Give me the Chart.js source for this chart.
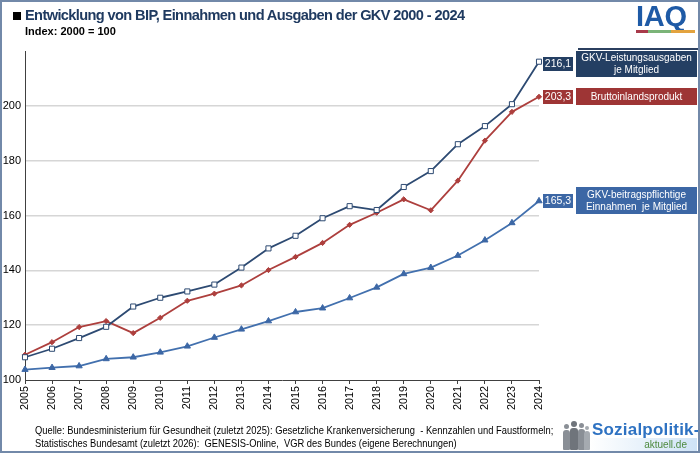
<!DOCTYPE html>
<html>
<head>
<meta charset="utf-8">
<script src="https://cdn.jsdelivr.net/npm/chart.js@4/dist/chart.umd.min.js"></script>
<style>
html,body{margin:0;padding:0;width:700px;height:453px;overflow:hidden;background:#fff;font-family:"Liberation Sans",Arial,sans-serif;}
#frame{position:absolute;left:0;top:0;width:696px;height:449px;border:2px solid #7289a9;pointer-events:none;z-index:5;}
#chart{position:absolute;left:0;top:0;}
#sq{position:absolute;left:13px;top:12px;width:8px;height:8px;background:#000;}
#title{position:absolute;left:25px;top:7px;font-weight:bold;font-size:14.6px;color:#1f3a60;letter-spacing:-0.62px;white-space:nowrap;}
#sub{position:absolute;left:25px;top:25px;font-weight:bold;font-size:11px;color:#000;white-space:nowrap;}
#iaq{position:absolute;left:636px;top:2px;font-weight:bold;font-size:29px;color:#1e5aa6;letter-spacing:-0.3px;line-height:29px;}
#iaqline{position:absolute;left:636px;top:30px;height:3px;width:59px;background:linear-gradient(to right,#a83a4a 0,#a83a4a 20%,#7bb478 20%,#7bb478 60%,#e3a33f 60%,#e3a33f 100%);}
#hline{position:absolute;left:578px;top:48px;width:122px;height:1.5px;background:#2b3f5f;}
#src{position:absolute;left:35px;top:425px;font-size:10.4px;line-height:12.5px;color:#000;white-space:nowrap;transform:scaleX(0.9);transform-origin:0 0;}
#logo{position:absolute;left:560px;top:418px;width:137px;height:33px;}
#logobg{position:absolute;left:30px;top:20px;width:107px;height:13px;background:linear-gradient(to right,#ffffff,#cfe3f6);}
#soz{position:absolute;left:32px;top:2px;font-weight:bold;font-size:17px;color:#2e72c2;letter-spacing:0.2px;white-space:nowrap;}
#akt{position:absolute;right:10px;top:21px;font-size:10px;color:#4e8a3e;white-space:nowrap;}
.p{position:absolute;background:#8a8f96;border-radius:3px 3px 1px 1px;}
.h{position:absolute;background:#8a8f96;border-radius:50%;}
</style>
</head>
<body>
<canvas id="chart" width="700" height="453"></canvas>
<div id="sq"></div>
<div id="title">Entwicklung von BIP, Einnahmen und Ausgaben der GKV 2000 - 2024</div>
<div id="sub">Index: 2000 = 100</div>
<div id="iaq">IAQ</div>
<div id="iaqline"></div>
<div id="hline"></div>
<div id="src">Quelle: Bundesministerium für Gesundheit (zuletzt 2025): Gesetzliche Krankenversicherung &nbsp;- Kennzahlen und Faustformeln;<br>Statistisches Bundesamt (zuletzt 2026): &nbsp;GENESIS-Online, &nbsp;VGR des Bundes (eigene Berechnungen)</div>
<div id="logo">
  <div id="logobg"></div>
  <div class="h" style="left:4px;top:6px;width:5px;height:5px;"></div>
  <div class="p" style="left:3px;top:12px;width:7px;height:20px;"></div>
  <div class="h" style="left:11px;top:3px;width:6px;height:6px;background:#6f747b;"></div>
  <div class="p" style="left:10px;top:10px;width:8px;height:22px;background:#6f747b;"></div>
  <div class="h" style="left:19px;top:5px;width:5px;height:5px;"></div>
  <div class="p" style="left:18px;top:11px;width:7px;height:21px;"></div>
  <div class="h" style="left:25px;top:8px;width:4px;height:4px;background:#a5aab0;"></div>
  <div class="p" style="left:24px;top:13px;width:6px;height:19px;background:#a5aab0;"></div>
  <div id="soz">Sozialpolitik-</div>
  <div id="akt">aktuell.de</div>
</div>
<div id="frame"></div>
<script>
const years = ['2005','2006','2007','2008','2009','2010','2011','2012','2013','2014','2015','2016','2017','2018','2019','2020','2021','2022','2023','2024'];
const ausgaben = [108.3,111.4,115.3,119.4,126.8,130.0,132.3,134.8,141.0,148.0,152.6,159.0,163.4,162.0,170.4,176.2,186.0,192.6,200.6,216.1];
const bip = [109.2,113.8,119.3,121.5,117.1,122.7,128.9,131.5,134.5,140.1,144.9,150.0,156.6,161.0,165.9,161.9,172.7,187.3,197.8,203.3];
const einnahmen = [103.8,104.5,105.1,107.7,108.3,110.1,112.3,115.5,118.5,121.5,124.8,126.2,129.9,133.8,138.7,141.0,145.4,151.0,157.3,165.3];
const yTicks = [100,120,140,160,180,200];
const seriesNames = [['GKV-Leistungsausgaben','je Mitglied'],['Bruttoinlandsprodukt'],['GKV-beitragspflichtige','Einnahmen  je Mitglied']];
const valueLabels = ['216,1','203,3','165,3'];

const navy = '#243f63', blue = '#3c67a5';
const FONT = '"Liberation Sans", Arial, sans-serif';

const endLabels = {
  id: 'endLabels',
  afterDatasetsDraw(chart) {
    const ctx = chart.ctx;
    const boxColors = [navy, '#9e3535', blue];
    const offs = [2, 0, 0];
    const legH = [26, 17, 27];
    chart.data.datasets.forEach((ds, i) => {
      const meta = chart.getDatasetMeta(i);
      const pt = meta.data[meta.data.length - 1];
      const cy = pt.y + offs[i];
      ctx.save();
      ctx.fillStyle = boxColors[i];
      ctx.fillRect(543, Math.round(cy - 7), 30, 14);
      ctx.fillStyle = '#fff';
      ctx.font = '10.5px ' + FONT;
      ctx.textAlign = 'center';
      ctx.textBaseline = 'middle';
      ctx.fillText(valueLabels[i], 558, Math.round(cy) + 0.5);
      const h = legH[i];
      const top = Math.round(cy - h / 2);
      ctx.fillStyle = boxColors[i];
      ctx.fillRect(576, top, 121, h);
      ctx.fillStyle = '#fff';
      ctx.font = '10px ' + FONT;
      const lines = seriesNames[i];
      const lh = 11.5;
      lines.forEach((t, k) => {
        ctx.fillText(t, 636.5, cy + (k - (lines.length - 1) / 2) * lh + 0.5);
      });
      ctx.restore();
    });
  }
};

new Chart(document.getElementById('chart'), {
  type: 'line',
  data: {
    labels: years,
    datasets: [
      { data: ausgaben, borderColor: '#2d4a72', borderWidth: 1.8, pointStyle: 'rect', pointRadius: 3.6, pointBackgroundColor: '#fff', pointBorderColor: '#2d4a72', pointBorderWidth: 1, tension: 0 },
      { data: bip, borderColor: '#ad3f3d', borderWidth: 1.8, pointStyle: 'rectRot', pointRadius: 2.6, pointBackgroundColor: '#ad3f3d', pointBorderColor: '#ad3f3d', pointBorderWidth: 1, tension: 0 },
      { data: einnahmen, borderColor: '#4270ae', borderWidth: 1.8, pointStyle: 'triangle', pointRadius: 3.6, pointBackgroundColor: '#3c67a5', pointBorderColor: '#3c67a5', pointBorderWidth: 1, tension: 0 }
    ]
  },
  options: {
    responsive: false,
    animation: false,
    devicePixelRatio: 1,
    layout: { padding: { top: 51, right: 161, left: 0, bottom: 0 } },
    plugins: { legend: { display: false }, tooltip: { enabled: false }, title: { display: false } },
    elements: { line: { borderJoinStyle: 'round' } },
    scales: {
      x: {
        offset: false,
        grid: { drawOnChartArea: false, drawTicks: true, tickLength: 4, color: '#404040', tickWidth: 1 },
        border: { display: true, color: '#404040', width: 1 },
        ticks: { minRotation: 90, maxRotation: 90, padding: 2, color: '#000', font: { family: FONT, size: 10.8 }, autoSkip: false },
        afterFit(s) { s.height = 73; }
      },
      y: {
        min: 100, max: 220,
        afterBuildTicks(s) { s.ticks = yTicks.map(v => ({ value: v })); },
        grid: { drawTicks: false, color: c => (c.tick && c.tick.value === 100) ? 'rgba(0,0,0,0)' : '#d6d6d6', lineWidth: 1.5 },
        border: { display: true, color: '#404040', width: 1 },
        ticks: { padding: 4, color: '#000', font: { family: FONT, size: 11 } },
        afterFit(s) { s.width = 25; }
      }
    }
  },
  plugins: [endLabels]
});
</script>
</body>
</html>
